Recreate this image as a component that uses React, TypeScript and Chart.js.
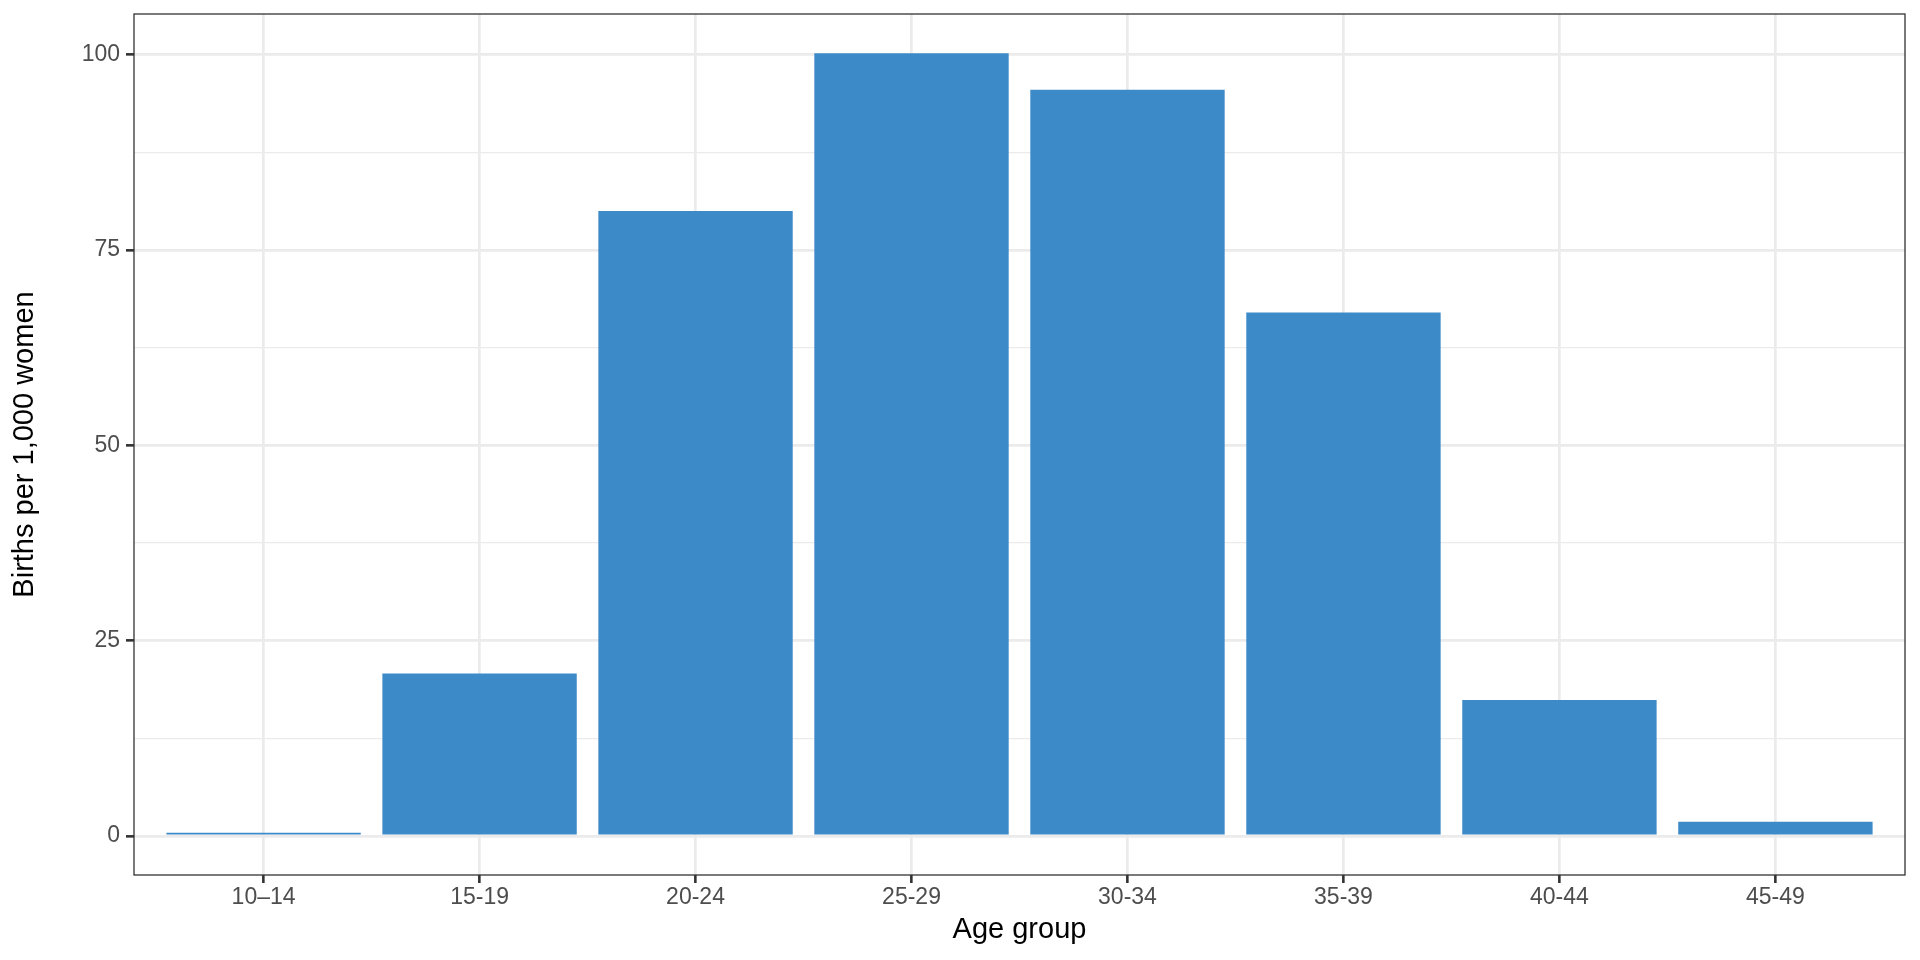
import React, { useEffect, useRef } from 'react';
import { Chart, registerables } from 'chart.js';

Chart.register(...registerables);

// ---- data ----
const categories: string[] = ['10–14', '15-19', '20-24', '25-29', '30-34', '35-39', '40-44', '45-49'];
const birthRates: number[] = [0.4, 20.8, 80.0, 100.2, 95.5, 67.0, 17.4, 1.8];
const yMajorTicks: number[] = [0, 25, 50, 75, 100];
const yMinorTicks: number[] = [12.5, 37.5, 62.5, 87.5];
const xTitle = 'Age group';
const yTitle = 'Births per 1,000 women';

const FONT = "'Liberation Sans', Arial, Helvetica, sans-serif";

export default function App() {
  const ref = useRef<HTMLCanvasElement>(null);

  useEffect(() => {
    const canvas = ref.current;
    if (!canvas) return;
    const top = Math.max(...birthRates);
    const yMin = -0.05 * top;
    const yMax = 1.05 * top;

    const panelBorder = {
      id: 'panelBorder',
      afterDraw(chart: any) {
        const { ctx, chartArea: a } = chart;
        ctx.save();
        ctx.strokeStyle = '#333333';
        ctx.lineWidth = 1.3;
        ctx.strokeRect(a.left, a.top, a.right - a.left, a.bottom - a.top);
        ctx.restore();
      },
    };

    const noPad = (s: any) => {
      s.paddingTop = 0;
      s.paddingBottom = 0;
      s.paddingLeft = 0;
      s.paddingRight = 0;
    };

    const chart = new Chart(canvas, {
      type: 'bar',
      data: {
        datasets: [
          {
            data: birthRates.map((v, i) => ({ x: i, y: v })),
            backgroundColor: '#3D8AC9',
            borderWidth: 0,
            barPercentage: 0.9,
            categoryPercentage: 1,
          } as any,
        ],
      },
      options: {
        animation: false,
        responsive: false,
        devicePixelRatio: 1,
        layout: { padding: { top: 14, right: 15, left: 0, bottom: 0 } },
        plugins: {
          legend: { display: false },
          tooltip: { enabled: false },
        },
        scales: {
          x: {
            type: 'linear',
            offset: false,
            min: -0.6,
            max: categories.length - 1 + 0.6,
            afterBuildTicks: (s: any) => {
              s.ticks = categories.map((_, i) => ({ value: i }));
            },
            afterFit: (s: any) => {
              s.height = 85;
              noPad(s);
            },
            ticks: {
              autoSkip: false,
              maxRotation: 0,
              padding: 1,
              color: '#4D4D4D',
              font: { family: FONT, size: 23 },
              callback: (v: any) => categories[Math.round(Number(v))] ?? '',
            },
            grid: {
              offset: false,
              color: '#EBEBEB',
              lineWidth: 2.7,
              drawTicks: true,
              tickLength: 8,
              tickColor: '#333333',
              tickWidth: 2.6,
            },
            border: { display: false },
            title: {
              display: true,
              text: xTitle,
              color: '#000000',
              font: { family: FONT, size: 29 },
              padding: { top: 0, bottom: 12.6 },
            },
          },
          y: {
            type: 'linear',
            position: 'left',
            min: yMin,
            max: yMax,
            afterBuildTicks: (s: any) => {
              s.ticks = yMajorTicks.map((v) => ({ value: v }));
            },
            afterFit: (s: any) => {
              s.width = 134;
              noPad(s);
            },
            ticks: {
              padding: 6,
              color: '#4D4D4D',
              font: { family: FONT, size: 23 },
              callback: (v: any) => String(v),
            },
            grid: {
              color: '#EBEBEB',
              lineWidth: 2.7,
              drawTicks: true,
              tickLength: 8,
              tickColor: '#333333',
              tickWidth: 2.6,
            },
            border: { display: false },
            title: {
              display: true,
              text: yTitle,
              color: '#000000',
              font: { family: FONT, size: 29 },
              padding: { top: 7.6, bottom: 0 },
            },
          },
          yMinor: {
            type: 'linear',
            position: 'left',
            min: yMin,
            max: yMax,
            afterBuildTicks: (s: any) => {
              s.ticks = yMinorTicks.map((v) => ({ value: v }));
            },
            afterFit: (s: any) => {
              s.width = 0;
              noPad(s);
            },
            ticks: { display: false },
            grid: {
              color: '#EBEBEB',
              lineWidth: 1.35,
              drawTicks: false,
            },
            border: { display: false },
          },
        },
      } as any,
      plugins: [panelBorder],
    });

    return () => {
      chart.destroy();
    };
  }, []);

  return (
    <div style={{ position: 'absolute', left: 0, top: 0, width: 1920, height: 960, background: '#ffffff' }}>
      <canvas ref={ref} width={1920} height={960} style={{ display: 'block' }} />
    </div>
  );
}
